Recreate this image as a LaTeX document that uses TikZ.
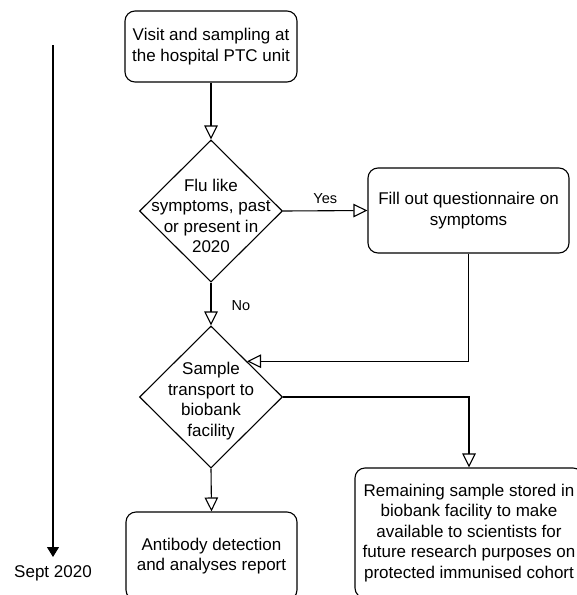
\documentclass[tikz,border=0pt]{standalone}
\usepackage{fontspec}
\setmainfont{Liberation Sans}
\usetikzlibrary{arrows.meta,shapes.geometric}
\begin{document}
\begin{tikzpicture}[x=1pt,y=-1pt, line width=1.1pt,
  every node/.style={font=\fontsize{17}{20.5}\selectfont},
  proc/.style={draw, rounded corners=10pt, align=center, inner sep=2pt},
  decision/.style={draw, diamond, minimum width=143pt, minimum height=142pt, inner sep=0pt},
  dtext/.style={align=center, inner sep=0pt},
  flow/.style={-{Triangle[open,length=14pt,width=13.5pt]}},
  lbl/.style={font=\fontsize{14.5}{17}\selectfont, inner sep=0pt}]
\useasboundingbox (0,0) rectangle (577,595);
\clip (0,0) rectangle (577,595);

\node[proc, minimum width=172pt, minimum height=71pt] (top) at (211,46.5) {Visit and sampling at\\the hospital PTC unit};
\node[decision] (d1) at (211,211) {};
\node[dtext] (d1t) at (211,216) {Flu like\\symptoms, past\\or present in\\2020};
\node[proc, minimum width=201pt, minimum height=85pt] (b2) at (468.5,210.5) {Fill out questionnaire on\\symptoms};
\node[decision] (d2) at (211,397) {};
\node[dtext] (d2t) at (211,401) {Sample\\transport to\\biobank\\facility};
\node[proc, minimum width=228pt, minimum height=130pt] (b3) at (469,533) {Remaining sample stored in\\biobank facility to make\\available to scientists for\\future research purposes on\\protected immunised cohort};
\node[proc, minimum width=171pt, minimum height=88pt] (b4) at (211.5,556) {Antibody detection\\and analyses report};
\node (sept) at (53,573) {Sept 2020};
\coordinate (t0) at (53,45);
\coordinate (t1) at (53,557);

\draw[flow] (top.south) -- (d1.north);
\draw[flow] (d1.east) -- node[lbl, above=7pt] (yes) {Yes} (b2.west);
\draw[flow] (d1.south) -- node[lbl, right=20pt, yshift=-2pt] (no) {No} (d2.north);
\draw[flow] (b2.south) |- (d2.north east);
\draw[flow] (d2.east) -| (b3.north);
\draw[flow] (d2.south) -- (b4.north);
\draw[-{Triangle[length=10pt,width=12pt]}] (t0) -- (t1);
\end{tikzpicture}
\end{document}
